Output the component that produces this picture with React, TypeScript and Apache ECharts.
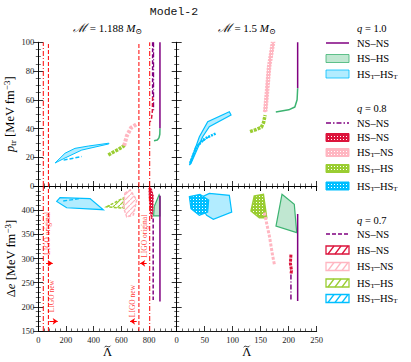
import React, { useEffect, useRef } from "react";
import * as echarts from "echarts";

// ---------------- data ----------------
// LIGO bounds on tidal deformability
const ligoOriginal = [36, 805];
const ligoNew = [73, 727];
const ligoArrows = [
  [[56, 290], [104, 290]],
  [[80, 170], [140, 170]],
  [[783, 290], [736, 290]],
  [[711, 170], [663, 170]],
];
const ligoLabels = [
  { name: "LIGO original", value: [65, 352] },
  { name: "LIGO new", value: [98, 222] },
  { name: "LIGO original", value: [765, 346] },
  { name: "LIGO new", value: [684, 212] },
];

// top-left: M = 1.188, p_tr vs Lambda
const tlNsNs10 = [[879, 100], [879, 40]];
const tlHsHs10 = [[879, 40], [878, 36], [872, 33.5], [860, 32], [836, 31.5]];
const tlNsNs08 = [[833, 100], [833, 52]];
const tlNsNs07 = [[826, 100], [826, 62]];
const tlHsNs07 = [[826, 62], [824, 52], [818, 47], [808, 44.5]];
const tlHsTNs08 = [[620, 28], [640, 35], [670, 40.5], [710, 43]];
const tlHsTHs08 = [[506, 21.6], [540, 23.5], [580, 25.5], [626, 28.5]];
const tlHsTHsT10 = [[121, 16], [193, 22.8], [265, 26.2], [361, 27.8], [510, 29.8], [510, 29.3], [314, 25], [193, 19.5]];
const tlHsTHsT07 = [[183, 18], [314, 20.5]];

// top-right: M = 1.5
const trNsNs10 = [[216, 100], [216, 68]];
const trHsHs10 = [[216, 68], [215, 60], [211, 55], [200, 53], [177, 51.5]];
const trHsTNs08 = [[155, 51.7], [158, 64.5], [162, 83], [169, 100], [175, 100], [168, 83], [164, 64.5], [161, 51.7]];
const trHsTHs08 = [[131, 37.8], [140, 39], [151, 40.8], [155, 44], [158, 49.4]];
const trHsTHsT10 = [[22.7, 14.6], [40.5, 34.3], [55.4, 44.7], [94, 51.7], [97, 49.4], [58.2, 41.3], [46.4, 34.3], [25.5, 15.8]];
const trHsTHsT08 = [[24, 16], [35, 27], [50, 33], [70.5, 36.7]];
const trHsTHsT07 = [[25, 17], [34.5, 27.3], [45, 31], [58, 34.3]];

// bottom-left: M = 1.188, delta e vs Lambda
const blNsNs10 = [[879, 430], [879, 211]];
const blNsNs07 = [[830, 383], [830, 214]];
const blHsHs10 = [[873, 432], [879, 428], [879, 388], [833, 388], [838, 408]];
const blHsNs = [[800, 445], [815, 446], [830, 430], [828, 400], [820, 382], [810, 395], [802, 425]];
const blHsTNs08 = [[626, 435], [663, 442], [711, 421], [687, 390], [639, 386], [614, 407]];
const blHsTHs07 = [[494, 407], [614, 425], [618, 404]];
const blHsTHsT10 = [[133, 418], [157, 426], [374, 424], [470, 401], [205, 405]];
const blHsTHsT07 = [[180, 419], [300, 424]];

// bottom-right: M = 1.5
const brHsTHsT10 = [[35.7, 422.4], [58.3, 434.8], [94, 430.7], [98.2, 396.2], [65.4, 381], [53.5, 389.3]];
const brHsTHsT08 = [[22.6, 427.9], [41.6, 432.8], [57.1, 421], [55.3, 396.2], [40.4, 389.3], [25.5, 403.1]];
const brHsTHs08 = [[138.6, 429.3], [154.8, 432.8], [160.7, 384.5], [147.6, 384.5], [132.7, 398.3]];
const brHsHs10 = [[188, 432.8], [210, 412], [214.3, 353.4], [177.3, 367]];
const brNsNs10 = [[216, 392], [216, 212]];
const brHsTNs08 = [[156.5, 394.8], [165.5, 346.6], [171.4, 305.2], [174.4, 288]];
const brHsNs08 = [[204, 308], [203, 290], [205, 275], [204, 267]];
const brNsNs08 = [[204, 267], [204, 212]];

// axis ranges / ticks
const lamLeft = { min: 0, max: 1000, interval: 200 };
const lamRight = { min: 0, max: 250, interval: 50 };
const ptrRange = { min: 0, max: 100, interval: 20 };
const deRange = { min: 150, max: 450, interval: 50 };

// ---------------- style ----------------
const FONT = "'Liberation Serif', 'DejaVu Serif', serif";
const PURPLE = "#800080";
const GREEN = "#3cb371";
const GREEN_F = "rgba(60,179,113,0.32)";
const BLUE = "#00bfff";
const BLUE_F = "rgba(0,191,255,0.3)";
const CRIMSON = "#dc143c";
const PINK = "#ffb6c1";
const YGREEN = "#9acd32";
const RED = "#ff0000";

const DASH = [4, 2];
const DASHDOT = [5, 2, 1, 2];

const richText = {
  n: { fontSize: 12.5, fontFamily: FONT, color: "#000" },
  i: { fontSize: 12.5, fontFamily: FONT, fontStyle: "italic", color: "#000" },
  sub: { fontSize: 9, fontFamily: FONT, padding: [6, 0, 0, 0], color: "#000" },
  sup: { fontSize: 9, fontFamily: FONT, padding: [0, 0, 6, 0], color: "#000" },
};
const titleRich = {
  n: { fontSize: 11, fontFamily: FONT, color: "#000" },
  i: { fontSize: 11, fontFamily: FONT, fontStyle: "italic", color: "#000" },
  sub: { fontSize: 8, fontFamily: FONT, padding: [6, 0, 0, 0], color: "#000" },
  s: { fontSize: 12, fontFamily: "'DejaVu Serif', serif", fontStyle: "italic", color: "#000" },
};

const grids = [
  { left: 38.3, top: 42.3, width: 138.4, height: 143.7 },
  { left: 176.7, top: 42.3, width: 140, height: 143.7 },
  { left: 38.3, top: 186, width: 138.4, height: 145 },
  { left: 176.7, top: 186, width: 140, height: 145 },
];

function makePattern(color: string, kind: string): any {
  try {
    const c = document.createElement("canvas");
    if (kind === "dots") {
      c.width = 3;
      c.height = 3;
      const g = c.getContext("2d")!;
      g.fillStyle = color;
      g.fillRect(0, 0, 3, 3);
      g.fillStyle = "#ffffff";
      g.fillRect(1, 1, 1, 1);
    } else {
      c.width = 5;
      c.height = 5;
      const g = c.getContext("2d")!;
      g.strokeStyle = color;
      g.lineWidth = 1.2;
      g.beginPath();
      g.moveTo(-1, 6);
      g.lineTo(6, -1);
      g.stroke();
    }
    return { image: c, repeat: "repeat" };
  } catch (e) {
    return color;
  }
}

function mkAxis(gi: number, pos: string, range: any, minorSplit: number, labels: boolean, hideMax: boolean, extra: any = {}) {
  return {
    type: "value",
    gridIndex: gi,
    position: pos,
    min: range.min,
    max: range.max,
    interval: range.interval,
    axisLine: { show: true, lineStyle: { color: "#000", width: 0.9 } },
    axisTick: { show: true, inside: true, length: 5, lineStyle: { color: "#000", width: 0.8 } },
    minorTick: { show: true, splitNumber: minorSplit, length: 2.5, lineStyle: { color: "#000", width: 0.6 } },
    splitLine: { show: false },
    axisLabel: {
      show: labels,
      fontFamily: FONT,
      fontSize: 8.5,
      color: "#222",
      margin: 4,
      formatter: (v: number) => (hideMax && v === range.max ? "" : String(v)),
    },
    ...extra,
  };
}

function ln(gi: number, pts: number[][], color: string, width: number, dash: any = "solid", opacity = 1) {
  return {
    type: "line",
    xAxisIndex: gi * 2,
    yAxisIndex: gi * 2,
    data: pts,
    symbol: "none",
    silent: true,
    z: 4,
    lineStyle: { color, width, type: dash, opacity },
  };
}

function poly(gi: number, pts: number[][], fill: any, stroke: string, lineWidth = 1.2, dash: any = null) {
  return {
    type: "custom",
    xAxisIndex: gi * 2,
    yAxisIndex: gi * 2,
    data: pts,
    silent: true,
    z: 3,
    renderItem: (params: any, api: any) => {
      if (params.dataIndex !== 0) return null;
      return {
        type: "polygon",
        shape: { points: pts.map((p) => api.coord(p)) },
        style: { fill, stroke, lineWidth, lineDash: dash },
      };
    },
  };
}

function ligoLines(gi: number, range: any) {
  return [
    ln(gi, [[ligoOriginal[0], range.min], [ligoOriginal[0], range.max]], RED, 1, DASHDOT),
    ln(gi, [[ligoNew[0], range.min], [ligoNew[0], range.max]], RED, 1, DASH),
    ln(gi, [[ligoNew[1], range.min], [ligoNew[1], range.max]], RED, 1, DASH),
    ln(gi, [[ligoOriginal[1], range.min], [ligoOriginal[1], range.max]], RED, 1, DASHDOT),
  ];
}

function arrowSeries(gi: number) {
  return {
    type: "line",
    xAxisIndex: gi * 2,
    yAxisIndex: gi * 2,
    data: [],
    silent: true,
    color: RED,
    markLine: {
      silent: true,
      symbol: ["none", "arrow"],
      symbolSize: 5,
      label: { show: false },
      lineStyle: { color: RED, width: 1, type: "solid" },
      data: ligoArrows.map((a) => [{ coord: a[0] }, { coord: a[1] }]),
    },
  };
}

function labelSeries(gi: number) {
  return {
    type: "scatter",
    xAxisIndex: gi * 2,
    yAxisIndex: gi * 2,
    data: ligoLabels,
    symbolSize: 1,
    itemStyle: { color: "rgba(0,0,0,0)" },
    silent: true,
    z: 6,
    label: {
      show: true,
      position: "inside",
      rotate: 90,
      formatter: "{b}",
      fontFamily: FONT,
      fontSize: 7.5,
      color: RED,
    },
  };
}

// ---------------- legend (graphic) ----------------
type LegItem = { text: string; kind: string; color: string; fill?: string; y: number };
const legendHeads = [
  { q: "1.0", y: 28 },
  { q: "0.8", y: 108 },
  { q: "0.7", y: 220 },
];
const legendItems: LegItem[] = [
  { text: "NS–NS", kind: "solid", color: PURPLE, y: 43 },
  { text: "HS–HS", kind: "fill", color: GREEN, fill: GREEN_F, y: 58.5 },
  { text: "HS{sub|T}–HS{sub|T}", kind: "fill", color: BLUE, fill: BLUE_F, y: 74 },
  { text: "NS–NS", kind: "dashdot", color: PURPLE, y: 123 },
  { text: "HS–NS", kind: "dots", color: CRIMSON, y: 137.5 },
  { text: "HS{sub|T}–NS", kind: "dots", color: PINK, y: 152.5 },
  { text: "HS{sub|T}–HS", kind: "dots", color: YGREEN, y: 168.5 },
  { text: "HS{sub|T}–HS{sub|T}", kind: "dots", color: BLUE, y: 186 },
  { text: "NS–NS", kind: "dashed", color: PURPLE, y: 234 },
  { text: "HS–NS", kind: "hatch", color: CRIMSON, y: 250 },
  { text: "HS{sub|T}–NS", kind: "hatch", color: PINK, y: 266.5 },
  { text: "HS{sub|T}–HS", kind: "hatch", color: YGREEN, y: 283 },
  { text: "HS{sub|T}–HS{sub|T}", kind: "hatch", color: BLUE, y: 298.5 },
];

function tilde(cx: number, cy: number) {
  return {
    type: "bezierCurve",
    shape: { x1: cx - 3, y1: cy + 0.8, cpx1: cx - 1.2, cpy1: cy - 2.2, cpx2: cx + 1.2, cpy2: cy + 2.2, x2: cx + 3, y2: cy - 0.8 },
    style: { stroke: "#000", lineWidth: 0.8, fill: "none" },
  };
}

function legendGraphics() {
  const x0 = 326;
  const w = 23;
  const out: any[] = [];
  const legRich = {
    n: { fontSize: 10.5, fontFamily: FONT, color: "#222" },
    i: { fontSize: 10.5, fontFamily: FONT, fontStyle: "italic", color: "#222" },
    sub: { fontSize: 7, fontFamily: FONT, padding: [5, 0, 0, 0], color: "#222" },
  };
  legendHeads.forEach((h) => {
    out.push({
      type: "text",
      x: 357,
      y: h.y,
      style: { text: "{i|q}{n| = " + h.q + "}", rich: legRich, verticalAlign: "middle", align: "left" },
    });
  });
  legendItems.forEach((it) => {
    const y = it.y;
    if (it.kind === "solid" || it.kind === "dashed" || it.kind === "dashdot") {
      out.push({
        type: "line",
        shape: { x1: x0, y1: y, x2: x0 + w, y2: y },
        style: {
          stroke: it.color,
          lineWidth: 1.5,
          lineDash: it.kind === "dashed" ? [4, 2] : it.kind === "dashdot" ? [5, 2, 1.5, 2] : null,
        },
      });
    } else if (it.kind === "fill") {
      out.push({
        type: "rect",
        shape: { x: x0, y: y - 4, width: w, height: 8 },
        style: { fill: it.fill, stroke: it.color, lineWidth: 0.8 },
      });
    } else if (it.kind === "dots") {
      out.push({
        type: "rect",
        shape: { x: x0, y: y - 4, width: w, height: 8 },
        style: { fill: makePattern(it.color, "dots"), stroke: it.color, lineWidth: 1 },
      });
    } else if (it.kind === "hatch") {
      out.push({
        type: "rect",
        shape: { x: x0, y: y - 4, width: w, height: 8 },
        style: { fill: "none", stroke: it.color, lineWidth: 1.3 },
      });
      for (let k = 0; k < 3; k++) {
        const xs = x0 + 2 + k * 7;
        out.push({
          type: "line",
          shape: { x1: xs, y1: y + 4, x2: xs + 6, y2: y - 4 },
          style: { stroke: it.color, lineWidth: 1.3 },
        });
      }
    }
    out.push({
      type: "text",
      x: 357,
      y,
      style: { text: "{n|" + it.text.replace(/\{sub\|T\}/g, "}{sub|T}{n|") + "}", rich: legRich, verticalAlign: "middle", align: "left" },
    });
  });
  out.push({
    type: "text",
    x: 174,
    y: 11,
    style: {
      text: "Model-2",
      fontFamily: "'Liberation Mono', 'DejaVu Sans Mono', monospace",
      fontSize: 11.5,
      fill: "#111",
      align: "center",
      verticalAlign: "middle",
    },
  });
  // tildes over the Lambda axis titles
  out.push(tilde(107.5, 346.5));
  out.push(tilde(246.7, 346.5));
  return out;
}

export default function App() {
  const ref = useRef<HTMLDivElement>(null);
  useEffect(() => {
    if (!ref.current) return;
    const chart = echarts.init(ref.current, null, { renderer: "svg" });
    const lamName = {
      name: "Λ",
      nameLocation: "middle",
      nameGap: 15,
      nameTextStyle: { fontSize: 12.5, fontFamily: FONT, color: "#000", verticalAlign: "top", lineHeight: 12 },
    };
    const xAxis: any[] = [
      mkAxis(0, "bottom", lamLeft, 5, false, true),
      mkAxis(0, "top", lamLeft, 5, false, true, {
        name: "{s|ℳ}{n| = 1.188 }{i|M}{sub|⊙}",
        nameLocation: "middle",
        nameGap: 7,
        nameTextStyle: { rich: titleRich, verticalAlign: "bottom" },
      }),
      mkAxis(1, "bottom", lamRight, 5, false, false),
      mkAxis(1, "top", lamRight, 5, false, false, {
        name: "{s|ℳ}{n| = 1.5 }{i|M}{sub|⊙}",
        nameLocation: "middle",
        nameGap: 7,
        nameTextStyle: { rich: titleRich, verticalAlign: "bottom" },
      }),
      mkAxis(2, "bottom", lamLeft, 5, true, true, lamName),
      mkAxis(2, "top", lamLeft, 5, false, true),
      mkAxis(3, "bottom", lamRight, 5, true, false, lamName),
      mkAxis(3, "top", lamRight, 5, false, false),
    ];
    const yAxis: any[] = [
      mkAxis(0, "left", ptrRange, 4, true, false, {
        name: "{i|p}{sub|tr}{n| [MeV fm}{sup|−3}{n|]}",
        nameLocation: "middle",
        nameGap: 16,
        nameRotate: 90,
        nameTextStyle: { rich: richText },
      }),
      mkAxis(0, "right", ptrRange, 4, false, false),
      mkAxis(1, "left", ptrRange, 4, false, false),
      mkAxis(1, "right", ptrRange, 4, false, false),
      mkAxis(2, "left", deRange, 5, true, true, {
        name: "{n|Δ}{i|e}{n| [MeV fm}{sup|−3}{n|]}",
        nameLocation: "middle",
        nameGap: 16,
        nameRotate: 90,
        nameTextStyle: { rich: richText },
      }),
      mkAxis(2, "right", deRange, 5, false, true),
      mkAxis(3, "left", deRange, 5, false, true),
      mkAxis(3, "right", deRange, 5, false, true),
    ];

    const dotsCrimson = makePattern(CRIMSON, "dots");
    const dotsPink = makePattern(PINK, "dots");
    const dotsYG = makePattern(YGREEN, "dots");
    const dotsBlue = makePattern(BLUE, "dots");
    const hatchYG = makePattern(YGREEN, "hatch");
    const hatchPink = makePattern(PINK, "hatch");

    const series: any[] = [
      // LIGO
      ...ligoLines(0, ptrRange),
      ...ligoLines(2, deRange),
      arrowSeries(2),
      labelSeries(2),
      // top-left
      poly(0, tlHsTHsT10, BLUE_F, BLUE, 1),
      ln(0, tlHsTHsT07, BLUE, 1.5, DASH),
      ln(0, tlHsTHs08, YGREEN, 3.5, [3, 1]),
      ln(0, tlHsTNs08, PINK, 4, [3, 1.5]),
      ln(0, tlNsNs07, PURPLE, 1.5, DASH),
      ln(0, tlNsNs08, PURPLE, 1.2, DASHDOT),
      ln(0, tlHsNs07, CRIMSON, 1.5, DASH),
      ln(0, tlNsNs10, PURPLE, 1.5),
      ln(0, tlHsHs10, GREEN, 1.5),
      // top-right
      poly(1, trHsTHsT10, BLUE_F, BLUE, 1.2),
      ln(1, trHsTHsT08, BLUE, 2.5, [2, 1]),
      ln(1, trHsTHsT07, BLUE, 1.5, DASH),
      ln(1, trHsTHs08, YGREEN, 3.5, [3, 1]),
      poly(1, trHsTNs08, dotsPink, PINK, 1.2, [2, 1]),
      ln(1, trNsNs10, PURPLE, 1.5),
      ln(1, trHsHs10, GREEN, 1.5),
      // bottom-left
      poly(2, blHsTHsT10, BLUE_F, BLUE, 1.2),
      ln(2, blHsTHsT07, BLUE, 1.3, DASH),
      poly(2, blHsTHs07, hatchYG, YGREEN, 1.5, [3, 1.5]),
      poly(2, blHsTNs08, hatchPink, PINK, 1.5, [3, 1.5]),
      poly(2, blHsHs10, GREEN_F, GREEN, 1.2),
      poly(2, blHsNs, dotsCrimson, CRIMSON, 1.2, [2, 1]),
      ln(2, blNsNs07, PURPLE, 1.5, DASH),
      ln(2, blNsNs10, PURPLE, 1.5),
      // bottom-right
      poly(3, brHsTHsT10, BLUE_F, BLUE, 1.2),
      poly(3, brHsTHsT08, dotsBlue, BLUE, 1.2),
      poly(3, brHsTHs08, dotsYG, YGREEN, 1.5),
      poly(3, brHsHs10, GREEN_F, GREEN, 1.2),
      ln(3, brHsTNs08, PINK, 3, [3, 1.5]),
      ln(3, brHsNs08, CRIMSON, 3, [3, 1]),
      ln(3, brNsNs08, PURPLE, 1.5, DASHDOT),
      ln(3, brNsNs10, PURPLE, 1.5),
    ];

    chart.setOption({
      animation: false,
      backgroundColor: "#fff",
      grid: grids,
      xAxis,
      yAxis,
      series,
      graphic: legendGraphics(),
    });
    return () => chart.dispose();
  }, []);
  return <div ref={ref} style={{ position: "fixed", left: 0, top: 0, width: 411, height: 362 }} />;
}
